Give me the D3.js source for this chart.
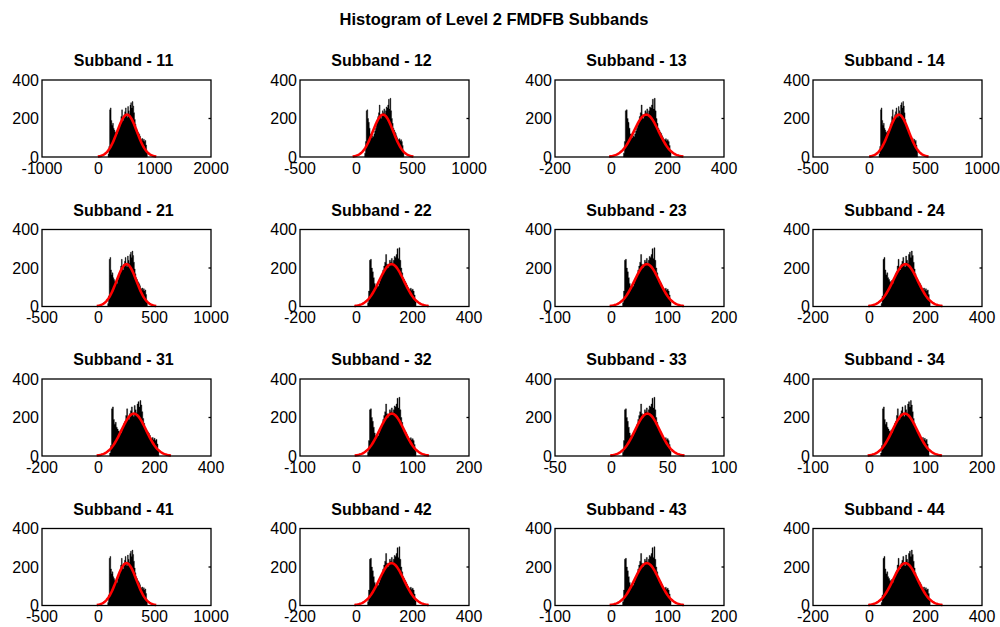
<!DOCTYPE html>
<html>
<head>
<meta charset="utf-8">
<script src="https://cdn.jsdelivr.net/npm/d3@7"></script>
<style>
  html, body { margin: 0; padding: 0; background: #ffffff; }
  svg { display: block; font-family: "Liberation Sans", Arial, Helvetica, sans-serif; }
</style>
</head>
<body>
<svg id="chart" width="1000" height="627"></svg>
<script>
// ---------------- DATA ----------------
const mainTitle = "Histogram of Level 2 FMDFB Subbands";
const subbands = ["11","12","13","14","21","22","23","24","31","32","33","34","41","42","43","44"];
const xMin = [-1000,-500,-200,-500, -500,-200,-100,-200, -200,-100,-50,-100, -500,-200,-100,-200];
const xMax = [ 2000, 1000, 400, 1000, 1000, 400, 200, 400,  400, 200, 100, 200, 1000, 400, 200, 400];
const xTicks = [
  [-1000,0,1000,2000],[-500,0,500,1000],[-200,0,200,400],[-500,0,500,1000],
  [-500,0,500,1000],[-200,0,200,400],[-100,0,100,200],[-200,0,200,400],
  [-200,0,200,400],[-100,0,100,200],[-50,0,50,100],[-100,0,100,200],
  [-500,0,500,1000],[-200,0,200,400],[-100,0,100,200],[-200,0,200,400]
];
const yTicks = [0, 200, 400];
// histogram data range (lowest / highest coefficient) per subband
const histLo = [173, 74, 43, 86,  83, 40, 20, 42,  40, 20, 10, 20,  83, 40, 20, 42];
const histHi = [870, 422, 212, 429, 435, 212, 106, 216, 215, 106, 53, 106, 435, 212, 106, 216];
// fitted normal curve parameters per subband
const fitMean  = [510, 237, 124, 262, 250, 125, 63, 128, 126, 63, 32, 63, 250, 125, 63, 128];
const fitSigma = [173, 90, 44, 88, 88, 44, 22, 44, 44, 22, 11, 22, 88, 44, 22, 44];
const fitPeak  = [220, 220, 220, 220, 220, 220, 220, 220, 220, 220, 220, 220, 220, 220, 220, 220];
// which bin-count profile each subband uses
const shapeIndex = [0,1,1,0, 0,1,1,0, 0,1,1,0, 0,1,1,0];
// bin counts (equal-width bins across [histLo, histHi])
const countsA = [15, 55, 245, 255, 190, 165, 175, 150, 140, 130, 125, 135, 120, 140, 150, 170, 180, 210,
  245, 200, 190, 220, 235, 255, 215, 205, 262, 240, 225, 270, 282, 255, 288, 265, 230, 195, 170, 150,
  140, 130, 125, 118, 108, 95, 90, 96, 85, 92, 80, 86, 62, 30];
const countsB = [20, 80, 240, 245, 200, 180, 150, 120, 105, 100, 110, 105, 120, 135, 150, 165, 190, 210,
  230, 270, 220, 200, 215, 240, 230, 250, 225, 240, 260, 255, 270, 300, 250, 305, 240, 200, 175, 150,
  140, 130, 122, 110, 100, 92, 88, 95, 85, 90, 80, 60, 25];
const countSets = [countsA, countsB];

// ---------------- LAYOUT ----------------
const colLeft = [42, 300, 555, 813];
const rowTop = [80, 229.5, 379, 528.5];
const axW = 169, axH = 77;

const svg = d3.select("#chart");
svg.append("text")
  .attr("x", 494).attr("y", 25)
  .attr("text-anchor", "middle")
  .attr("font-size", 16.5).attr("font-weight", "bold")
  .text(mainTitle);

subbands.forEach((name, k) => {
  const r = Math.floor(k / 4), c = k % 4;
  const g = svg.append("g").attr("transform", `translate(${colLeft[c]},${rowTop[r]})`);
  const x = d3.scaleLinear().domain([xMin[k], xMax[k]]).range([0, axW]);
  const y = d3.scaleLinear().domain([0, 400]).range([axH, 0]);

  // histogram as a stepped filled area (no seams between bins)
  const counts = countSets[shapeIndex[k]];
  const n = counts.length;
  const bw = (histHi[k] - histLo[k]) / n;
  const steps = counts.map((v, i) => [histLo[k] + i * bw, v]);
  steps.push([histHi[k], counts[n - 1]]);
  g.append("path")
    .attr("d", d3.area().curve(d3.curveStepAfter)
      .x(d => x(d[0])).y0(y(0)).y1(d => y(d[1]))(steps))
    .attr("fill", "#000").attr("stroke", "#000").attr("stroke-width", 0.4);

  // fitted normal curve
  const m = fitMean[k], s = fitSigma[k], p = fitPeak[k];
  const pts = d3.range(0, 121).map(i => {
    const xv = m - 3 * s + i * (6 * s / 120);
    return [xv, p * Math.exp(-((xv - m) ** 2) / (2 * s * s))];
  });
  g.append("path")
    .attr("d", d3.line().x(d => x(d[0])).y(d => y(d[1]))(pts))
    .attr("fill", "none").attr("stroke", "#ff0000").attr("stroke-width", 2.6)
    .attr("stroke-linejoin", "round");

  // box
  g.append("rect").attr("x", 0).attr("y", 0).attr("width", axW).attr("height", axH)
    .attr("fill", "none").attr("stroke", "#000").attr("stroke-width", 1.3);

  // right-side inner tick at mid value
  g.append("line").attr("x1", axW - 2.5).attr("x2", axW).attr("y1", y(200)).attr("y2", y(200))
    .attr("stroke", "#000").attr("stroke-width", 1.3);

  // y tick labels
  g.selectAll("text.yt").data(yTicks).enter().append("text")
    .attr("class", "yt")
    .attr("x", -3).attr("y", d => y(d))
    .attr("dy", "0.36em")
    .attr("text-anchor", "end")
    .attr("font-size", 16)
    .text(d => d);

  // x tick labels
  g.selectAll("text.xt").data(xTicks[k]).enter().append("text")
    .attr("class", "xt")
    .attr("x", d => x(d)).attr("y", axH + 16.5)
    .attr("text-anchor", "middle")
    .attr("font-size", 16)
    .text(d => d);

  // subplot title
  g.append("text")
    .attr("x", axW / 2 - 3).attr("y", -14)
    .attr("text-anchor", "middle")
    .attr("font-size", 16).attr("font-weight", "bold")
    .text("Subband - " + name);
});
</script>
</body>
</html>
